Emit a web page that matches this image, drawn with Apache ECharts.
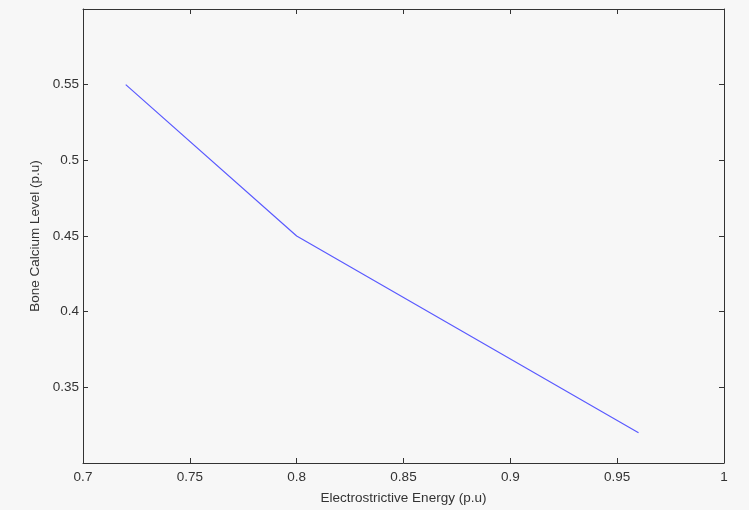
<!DOCTYPE html>
<html><head><meta charset="utf-8">
<script src="https://cdn.jsdelivr.net/npm/echarts@6/dist/echarts.min.js"></script>
<style>html,body{margin:0;padding:0;background:#f7f7f7;}#c{width:749px;height:510px;}</style>
</head><body><div id="c"></div>
<script>
const energy = [0.72, 0.80, 0.96];
const calcium = [0.55, 0.45, 0.32];
const xTitle = 'Electrostrictive Energy (p.u)';
const yTitle = 'Bone Calcium Level (p.u)';

const chart = echarts.init(document.getElementById('c'));
const axisCol = '#333';
const lab = {color:'#333', fontFamily:'Liberation Sans, Arial, sans-serif', fontSize:13.5};
chart.setOption({
  backgroundColor:'#f7f7f7',
  animation:false,
  grid:{left:83, top:9, right:25, bottom:44, show:false},
  xAxis:[{
    type:'value', min:0.7, max:1, interval:0.05, position:'bottom',
    name:xTitle, nameLocation:'middle', nameGap:28,
    nameTextStyle:Object.assign({}, lab),
    axisLine:{show:true, lineStyle:{color:axisCol, width:1}},
    axisTick:{show:true, inside:true, length:5, lineStyle:{color:axisCol}},
    axisLabel:Object.assign({margin:7, formatter:v=>String(+v.toFixed(2))}, lab),
    splitLine:{show:false}
  },{
    type:'value', min:0.7, max:1, interval:0.05, position:'top',
    axisLine:{show:true, onZero:false, lineStyle:{color:axisCol, width:1}},
    axisTick:{show:true, inside:true, length:5, lineStyle:{color:axisCol}},
    axisLabel:{show:false}, splitLine:{show:false}
  }],
  yAxis:[{
    type:'value', min:0.3, max:0.6, interval:0.05, position:'left',
    name:yTitle, nameLocation:'middle', nameGap:38,
    nameTextStyle:Object.assign({}, lab),
    axisLine:{show:true, onZero:false, lineStyle:{color:axisCol, width:1}},
    axisTick:{show:true, inside:true, length:5, lineStyle:{color:axisCol}},
    axisLabel:Object.assign({margin:4, showMinLabel:false, showMaxLabel:false, formatter:v=>String(+v.toFixed(2))}, lab),
    splitLine:{show:false}
  },{
    type:'value', min:0.3, max:0.6, interval:0.05, position:'right',
    axisLine:{show:true, onZero:false, lineStyle:{color:axisCol, width:1}},
    axisTick:{show:true, inside:true, length:5, lineStyle:{color:axisCol}},
    axisLabel:{show:false}, splitLine:{show:false}
  }],
  series:[{
    type:'line', xAxisIndex:0, yAxisIndex:0,
    data: energy.map((x,i)=>[x, calcium[i]]),
    showSymbol:false, symbol:'none',
    lineStyle:{color:'#5a5aff', width:1.2}
  }]
});
</script></body></html>
